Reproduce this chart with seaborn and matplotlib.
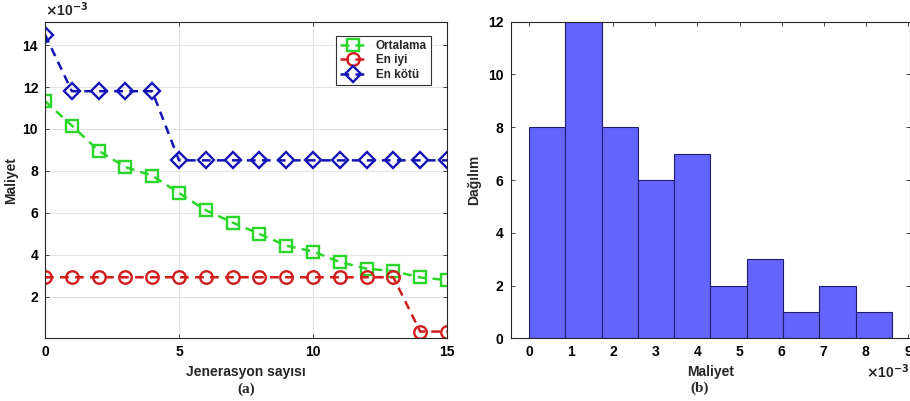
import numpy as np
import pandas as pd
import matplotlib
matplotlib.use("Agg")
import matplotlib.pyplot as plt
import seaborn as sns

# values in units of 1e-3
generations = list(range(16))
ortalama = [11.33, 10.16, 8.96, 8.18, 7.77, 6.94, 6.12, 5.53, 4.99, 4.43,
            4.15, 3.65, 3.33, 3.22, 2.91, 2.79]
en_iyi = [2.92] * 14 + [0.33, 0.33]
en_kotu = [14.5, 11.8, 11.8, 11.8, 11.8] + [8.5] * 11

# histogram (b)
bin_edges = [0.0, 0.862, 1.724, 2.586, 3.448, 4.31, 5.172, 6.034, 6.896, 7.758, 8.62]
counts = [8, 12, 8, 6, 7, 2, 3, 1, 2, 1]

sns.set_theme(style="white")
plt.rcParams['font.family'] = ['Liberation Sans', 'DejaVu Sans']
plt.rcParams['font.weight'] = 'bold'
plt.rcParams['axes.labelweight'] = 'bold'

fig = plt.figure(figsize=(9.1, 4.01), dpi=100)
ax1 = fig.add_axes([0.0495, 0.157, 0.4417, 0.788])
ax2 = fig.add_axes([0.561, 0.156, 0.439, 0.79])

df = pd.DataFrame({"gen": generations, "Ortalama": ortalama,
                   "En iyi": en_iyi, "En kötü": en_kotu})

styles = [("Ortalama", "#2bd62b", "s", 8),
          ("En iyi", "#d01c1c", "o", 9),
          ("En kötü", "#1414b4", "D", 8.5)]
for name, col, mk, ms in styles:
    sns.lineplot(data=df, x="gen", y=name, ax=ax1, color=col, marker=mk,
                 markersize=ms, markerfacecolor='none', markeredgecolor=col,
                 markeredgewidth=1.7, linewidth=1.8, label=name)
    ax1.lines[-1].set_linestyle((0, (3.5, 2.5)))

ax1.set_xlim(0, 15)
ax1.set_ylim(0.02, 15.1)
ax1.set_xticks([0, 5, 10, 15])
ax1.set_yticks([2, 4, 6, 8, 10, 12, 14])
ax1.grid(True, color='#e4e4e4', linewidth=0.8)
ax1.set_xlabel("Jenerasyon sayısı", fontsize=10, labelpad=4)
ax1.set_ylabel("Maliyet", fontsize=10, labelpad=3)
ax1.text(0, 1.01, r"$\times$10$^{\mathbf{-3}}$", transform=ax1.transAxes,
         fontsize=10, fontweight='bold', va='bottom', ha='left')
leg = ax1.legend(loc='upper right', fontsize=8.5, frameon=True, fancybox=False,
                 handlelength=2.2, borderpad=0.35, labelspacing=0.2,
                 bbox_to_anchor=(0.975, 0.975))
leg.get_frame().set_edgecolor('black')
leg.get_frame().set_linewidth(0.8)
for t in leg.get_texts():
    t.set_fontweight('bold')

sns.histplot(x=[(bin_edges[i] + bin_edges[i + 1]) / 2 for i in range(len(counts))],
             weights=counts, bins=bin_edges, ax=ax2, color='#6464ff', alpha=1.0,
             edgecolor='#1e1e6e', linewidth=0.8)
ax2.set_xlim(-0.44, 9.05)
ax2.set_ylim(0, 12)
ax2.set_xticks(range(10))
ax2.set_yticks([0, 2, 4, 6, 8, 10, 12])
ax2.set_xlabel("Maliyet", fontsize=10, labelpad=4)
ax2.set_ylabel("Dağılım", fontsize=10, labelpad=5)
fig.text(0.999, 0.072, r"$\times$10$^{\mathbf{-3}}$",
         fontsize=10, fontweight='bold', va='center', ha='right')

for ax in (ax1, ax2):
    ax.tick_params(direction='in', length=3, width=0.6, labelsize=10,
                   top=True, right=True, bottom=True, left=True, colors='#262626',
                   labelcolor='black', pad=5)
    for lab in ax.get_xticklabels() + ax.get_yticklabels():
        lab.set_fontweight('bold')
    for s in ax.spines.values():
        s.set_color('#262626')
        s.set_linewidth(0.8)

fig.text(0.2705, 0.03, "(a)", fontsize=11, family='Liberation Serif',
         fontweight='bold', ha='center', va='center')
fig.text(0.7685, 0.033, "(b)", fontsize=11, family='Liberation Serif',
         fontweight='bold', ha='center', va='center')

fig.savefig("out.png", dpi=100)
